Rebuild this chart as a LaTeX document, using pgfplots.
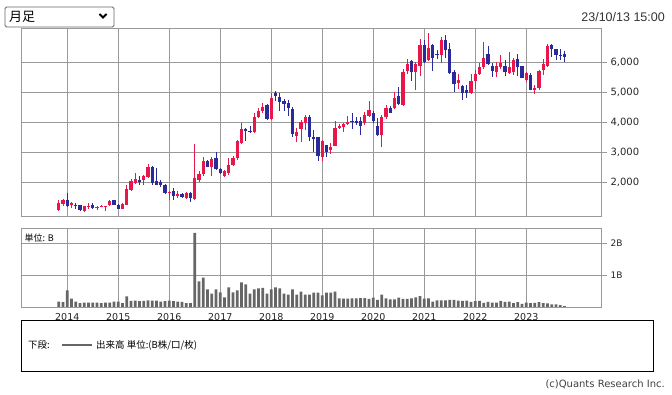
\documentclass[border=0pt]{standalone}
\usepackage{pgfplots}
\pgfplotsset{compat=1.18}
\usepackage{pgfplotstable}
\usepackage{fontspec}
\setmainfont{DejaVu Sans}
\newfontfamily\jp{Noto Sans CJK JP}
\newfontfamily\lib{Liberation Sans}
\definecolor{upc}{RGB}{232,23,75}
\definecolor{dnc}{RGB}{42,42,155}
\definecolor{gridc}{RGB}{153,153,153}
\definecolor{volc}{RGB}{102,102,102}

\pgfplotstableread{
i o h l c v
0 1080 1410 1030 1320 0.17
1 1280 1430 1210 1410 0.15
2 1410 1630 1180 1190 0.52
3 1230 1340 1130 1300 0.26
4 1250 1300 1120 1220 0.17
5 1240 1250 1040 1060 0.12
6 1040 1210 1010 1190 0.14
7 1160 1300 1100 1220 0.14
8 1230 1320 1120 1130 0.14
9 1140 1210 1060 1180 0.14
10 1180 1230 1160 1210 0.12
11 1190 1220 1030 1220 0.14
12 1230 1400 1220 1380 0.14
13 1390 1420 1230 1245 0.17
14 1245 1260 1090 1110 0.17
15 1110 1300 1090 1280 0.12
16 1244 1900 1230 1780 0.33
17 1745 2100 1720 2040 0.19
18 1970 2300 1940 2110 0.20
19 2080 2210 1910 2010 0.18
20 2060 2250 1890 2190 0.19
21 2160 2610 2130 2520 0.21
22 2490 2530 1910 1960 0.20
23 2040 2480 1890 1920 0.20
24 2010 2080 1850 1900 0.17
25 1920 1940 1620 1650 0.18
26 1640 1700 1400 1680 0.20
27 1700 1790 1420 1550 0.18
28 1550 1720 1470 1620 0.17
29 1610 1640 1480 1500 0.16
30 1470 1670 1450 1650 0.12
31 1640 1670 1330 1460 0.12
32 1450 3280 1400 2150 2.32
33 2060 2360 2000 2280 0.80
34 2280 2850 2220 2690 0.92
35 2690 2740 2500 2520 0.55
36 2520 2830 2190 2770 0.42
37 2820 3000 2410 2430 0.55
38 2450 2480 2280 2300 0.46
39 2210 2390 2170 2360 0.30
40 2320 2800 2250 2580 0.61
41 2580 2860 2540 2800 0.46
42 2800 3410 2740 3380 0.52
43 3300 3970 3280 3780 0.77
44 3770 3800 3380 3720 0.71
45 3720 3860 3630 3660 0.42
46 3690 4300 3630 4160 0.55
47 4160 4490 4130 4380 0.58
48 4370 4630 4320 4520 0.60
49 4580 4610 4080 4100 0.42
50 4100 4990 4080 4800 0.55
51 4990 5030 4700 4890 0.61
52 4830 4970 4360 4660 0.58
53 4720 4780 4360 4610 0.42
54 4650 4730 4220 4470 0.39
55 4440 4520 3500 3600 0.55
56 3550 3800 3330 3690 0.39
57 3780 4080 3330 4020 0.48
58 3990 4240 3730 4160 0.39
59 4160 4240 3360 3490 0.39
60 3520 3750 3020 3440 0.45
61 3520 3520 2690 2880 0.45
62 2830 3420 2720 3380 0.36
63 3240 3250 2830 3000 0.45
64 3060 3290 2950 3160 0.45
65 3210 4050 3190 3820 0.48
66 3820 3930 3780 3880 0.27
67 3830 3970 3690 3940 0.26
68 3940 4210 3910 4020 0.26
69 4050 4300 3770 4000 0.27
70 4030 4160 3920 3990 0.27
71 4040 4190 3570 3860 0.28
72 3990 4350 3910 4240 0.28
73 4220 4720 4190 4410 0.25
74 4300 4360 3980 4040 0.29
75 3880 4130 3540 3580 0.22
76 3580 4240 3160 4160 0.39
77 4160 4580 4100 4470 0.27
78 4470 4550 4300 4320 0.24
79 4460 5020 4430 4800 0.24
80 4860 5180 4580 4610 0.29
81 4570 5790 4540 5680 0.25
82 5720 6100 5610 5940 0.25
83 6030 6070 5380 5660 0.27
84 5680 6020 5070 5930 0.30
85 5890 6790 5550 6570 0.34
86 6570 6740 5990 6020 0.26
87 6090 6970 6050 6470 0.27
88 6570 6600 5720 6160 0.17
89 6290 6420 6100 6250 0.21
90 6250 6850 5960 6760 0.21
91 6760 6910 6160 6410 0.21
92 6460 6660 5620 5630 0.22
93 5660 5740 5010 5260 0.22
94 5320 5610 5120 5400 0.20
95 5200 5230 4730 4990 0.19
96 5070 5230 4810 4990 0.20
97 4980 5600 4950 5370 0.16
98 5370 5740 5100 5600 0.18
99 5600 5960 5560 5850 0.19
100 5850 6690 5790 6160 0.13
101 6270 6540 5900 5940 0.16
102 5880 5960 5510 5700 0.14
103 5680 6010 5510 5870 0.14
104 5850 6250 5760 5980 0.19
105 5870 6090 5540 5660 0.16
106 5650 6330 5600 5830 0.17
107 5660 6130 5570 6070 0.12
108 6100 6280 5530 5850 0.15
109 5890 5890 5460 5490 0.10
110 5420 5680 5330 5630 0.14
111 5570 5650 5060 5090 0.12
112 5070 5230 4950 5150 0.13
113 5150 5740 5070 5720 0.15
114 5740 6100 5570 5940 0.12
115 5880 6610 5850 6540 0.11
116 6580 6610 6180 6430 0.08
117 6430 6460 6060 6250 0.08
118 6260 6450 6070 6210 0.06
119 6270 6380 6000 6180 0.03
}\candles

\pgfplotsset{
  chartbase/.style={
    scale only axis, width=580pt,
    xmin=-8.89, xmax=127.58,
    grid=major,
    major grid style={draw=gridc, line width=0.8pt},
    axis line style={draw=gridc, line width=0.9pt},
    xtick={2,14,...,110},
    xtick style={draw=none},
    ytick pos=right,
    tick align=outside,
    ytick style={draw=gridc, line width=0.8pt},
    major tick length=6pt,
  }
}

\begin{document}
\begin{tikzpicture}[x=1pt,y=1pt]
\path[use as bounding box] (0,0) rectangle (672,395);

% dropdown and date
\draw[draw=black!60, line width=0.9pt, rounded corners=1.5pt, fill=white] (5,368) rectangle (114,388);
\node[anchor=west, inner sep=0pt, font=\jp\fontsize{13}{14}\selectfont] at (9,378) {月足};
\draw[line width=1.8pt] (99.5,381) -- (103,377.5) -- (106.5,381);
\node[anchor=east, inner sep=0pt, text=black!80, font=\lib\fontsize{12.5}{14}\selectfont] at (665,378) {23/10/13 15:00};

% price panel
\begin{axis}[chartbase,
  at={(21pt,179pt)}, anchor=south west, height=188pt,
  ymin=870, ymax=7145,
  xticklabels={},
  ytick={2000,3000,4000,5000,6000},
  yticklabels={{2,000},{3,000},{4,000},{5,000},{6,000}},
  yticklabel style={font=\fontsize{10}{12}\selectfont, text=black!85},
]
\addplot[draw=none, restrict expr to domain={\thisrow{c}-\thisrow{o}}{0:100000},
  error bars/.cd, y dir=plus, y explicit, error mark=none,
  error bar style={draw=upc, line width=1pt}]
  table[x=i, y=l, y error plus expr=\thisrow{h}-\thisrow{l}] {\candles};
\addplot[draw=none, restrict expr to domain={\thisrow{c}-\thisrow{o}}{-100000:-0.5},
  error bars/.cd, y dir=plus, y explicit, error mark=none,
  error bar style={draw=dnc, line width=1pt}]
  table[x=i, y=l, y error plus expr=\thisrow{h}-\thisrow{l}] {\candles};
\addplot[draw=none, restrict expr to domain={\thisrow{c}-\thisrow{o}}{0:100000},
  error bars/.cd, y dir=plus, y explicit, error mark=none,
  error bar style={draw=upc, line width=3.2pt, line cap=butt}]
  table[x=i, y=o, y error plus expr=\thisrow{c}-\thisrow{o}] {\candles};
\addplot[draw=none, restrict expr to domain={\thisrow{c}-\thisrow{o}}{-100000:-0.5},
  error bars/.cd, y dir=plus, y explicit, error mark=none,
  error bar style={draw=dnc, line width=3.2pt, line cap=butt}]
  table[x=i, y=c, y error plus expr=\thisrow{o}-\thisrow{c}] {\candles};
\end{axis}

% volume panel
\begin{axis}[chartbase,
  at={(21pt,88pt)}, anchor=south west, height=79pt,
  ymin=0, ymax=2.47,
  xticklabels={2014,2015,2016,2017,2018,2019,2020,2021,2022,2023},
  xticklabel style={font=\fontsize{9.5}{11}\selectfont, text=black!85, yshift=3pt},
  ytick={1,2},
  yticklabels={1B,2B},
  yticklabel style={font=\fontsize{9}{11}\selectfont, text=black!85},
]
\addplot[ybar, bar width=2.7pt, bar shift=0pt, fill=volc, draw=none] table[x=i, y=v] {\candles};
\node[anchor=north west, inner sep=0pt, font=\jp\fontsize{9}{10}\selectfont] at (rel axis cs:0.006,0.93) {単位: B};
\end{axis}

% legend box
\draw[line width=1pt] (21,23) rectangle (653,74);
\node[anchor=west, inner sep=0pt, font=\jp\fontsize{9.5}{11}\selectfont] at (28,50) {下段:};
\draw[draw=volc, line width=2.5pt] (62,50) -- (92,50);
\node[anchor=west, inner sep=0pt, font=\jp\fontsize{9.5}{11}\selectfont] at (96,50) {出来高 単位:(B株/口/枚)};
\node[anchor=east, inner sep=0pt, text=black!75, font=\fontsize{10}{12}\selectfont] at (665,11) {(c)Quants Research Inc.};
\end{tikzpicture}
\end{document}
